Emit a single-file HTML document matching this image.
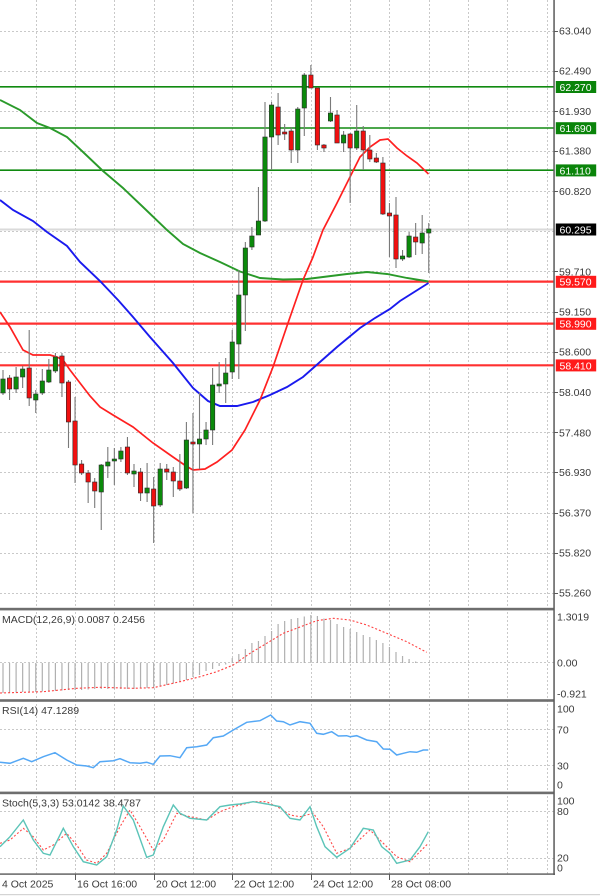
<!DOCTYPE html>
<html><head><meta charset="utf-8"><style>
html,body{margin:0;padding:0;background:#fff;width:600px;height:896px;overflow:hidden}
svg{display:block}
text{font-family:"Liberation Sans",Arial,sans-serif;font-size:10.5px;fill:#3a3a3a}
.w{fill:#fff}
</style></head><body>
<svg width="600" height="896" viewBox="0 0 600 896" xmlns="http://www.w3.org/2000/svg">
<rect width="600" height="896" fill="#fff"/>
<!-- grid -->
<g stroke="#c9c9c9" stroke-width="1" stroke-dasharray="2,2" fill="none">
<path d="M0 31.5H554M0 71.5H554M0 111.5H554M0 151.5H554M0 191.5H554M0 231.5H554M0 271.5H554M0 312.5H554M0 352.5H554M0 392.5H554M0 432.5H554M0 472.5H554M0 513.5H554M0 553.5H554M0 593.5H554"/>
<path d="M0 662.5H554M0 729.5H554M0 765.5H554M0 811.5H554M0 858.5H554"/>
<path d="M36.5 0V874M75.5 0V874M114.5 0V874M154.5 0V874M193.5 0V874M232.5 0V874M271.5 0V874M311.5 0V874M350.5 0V874M389.5 0V874M429.5 0V874M468.5 0V874M507.5 0V874M547.5 0V874"/>
</g>
<!-- current price line -->
<path d="M0 229.5H554" stroke="#dadada" stroke-width="2"/>
<!-- level lines -->
<g stroke="#108a10" stroke-width="1.6">
<path d="M0 86.8H554M0 128H554M0 170.2H554"/>
</g>
<g stroke="#ff3030" stroke-width="2.2">
<path d="M0 281.6H554M0 323.6H554M0 365.3H554"/>
</g>
<!-- moving averages -->
<polyline fill="none" stroke="#2a9a2a" stroke-width="1.9" points="0,100 20,110 37,123 50,128 67,137 83,152 103,171 123,188 143,207 167,230 183,244 200,253 220,262 240,271.5 260,278 283,279.5 307,279 327,276.5 347,274 367,272 387,274 407,278 428.5,281.5"/>
<polyline fill="none" stroke="#1a1aee" stroke-width="1.9" points="0,200 13,210 33,221 47,232 67,246 80,262 100,281 118,300 133,317 150,337 173,363 193,388 208,401 220,406 237,406 253,402 270,395 287,387 303,377 320,362 337,347 360,328 375,318 390,309 400,301 428.5,283"/>
<polyline fill="none" stroke="#ff2020" stroke-width="1.7" points="0,312 10,327 23,350 33,355 50,355 57,357 63,360 70,370 80,383 90,396 100,407 113,415 133,427 153,443 173,457 186,466 193,470 205,469 217,462 232,450 245,430 260,400 273,367 288,323 303,280 313,257 323,230 337,203 350,177 360,157 370,147 380,140 388,139 397,148 407,156 417,163 428.5,174"/>
<!-- wicks -->
<path stroke="#7a7a7a" stroke-width="1.1" fill="none" d="M3 370V395M9.55 375V400M16.1 367V393M22.65 366V388M29.2 330V406M35.75 390V413M42.3 369V395M48.85 359V383M55.4 353V373M61.95 353V397M68.5 380V448M75.05 397V483M81.6 460V475M88.15 470V503M94.7 478V508M101.25 464V530M107.8 447V478M114.35 448V485M120.9 447V462M127.45 437V475M134 464V487M140.55 468V501M147.1 463V502M153.65 477V543M160.2 463V507M166.75 464V480M173.3 467V497M179.85 454V491M186.4 422V489M192.95 413V513M199.5 393V469M206.05 422V445M212.6 368V445M219.15 362V393M225.7 358V403M232.25 330V379M238.8 270V379M245.35 242V331M251.9 227V250M258.45 187V235M265 102V222M271.55 102V170M278.1 93V145M284.65 124V140M291.2 127V163M297.75 107V163M304.3 73V136M310.85 65V88M317.4 87V150M323.95 144V152M330.5 97V122M337.05 110V143M343.6 131V152M350.15 133V203M356.7 105V150M363.25 126V170M369.8 135V162M376.35 153V163M382.9 157V215M389.45 203V257M396 197V268M402.55 250V261M409.1 232V258M415.65 223V255M422.2 215V254M428.75 223V273"/>
<!-- bodies -->
<g stroke="#2a2a2a" stroke-width="0.6">
<g fill="#0b8a0b">
<rect x="0.8" y="379" width="4.4" height="14"/>
<rect x="13.9" y="377" width="4.4" height="12"/>
<rect x="20.45" y="369" width="4.4" height="8"/>
<rect x="33.55" y="394" width="4.4" height="6"/>
<rect x="40.1" y="381" width="4.4" height="12"/>
<rect x="46.65" y="370" width="4.4" height="12"/>
<rect x="53.2" y="357" width="4.4" height="14"/>
<rect x="99.05" y="465" width="4.4" height="27"/>
<rect x="105.6" y="462" width="4.4" height="4"/>
<rect x="112.15" y="459" width="4.4" height="2"/>
<rect x="118.7" y="451" width="4.4" height="8"/>
<rect x="131.8" y="471" width="4.4" height="3"/>
<rect x="144.9" y="488" width="4.4" height="5"/>
<rect x="158" y="469" width="4.4" height="36"/>
<rect x="184.2" y="440" width="4.4" height="48"/>
<rect x="197.3" y="439" width="4.4" height="5"/>
<rect x="203.85" y="430" width="4.4" height="9"/>
<rect x="210.4" y="385" width="4.4" height="45"/>
<rect x="216.95" y="384" width="4.4" height="2"/>
<rect x="223.5" y="373" width="4.4" height="11"/>
<rect x="230.05" y="342" width="4.4" height="30"/>
<rect x="236.6" y="295" width="4.4" height="49"/>
<rect x="243.15" y="248" width="4.4" height="47"/>
<rect x="249.7" y="236" width="4.4" height="11"/>
<rect x="256.25" y="221" width="4.4" height="14"/>
<rect x="262.8" y="137" width="4.4" height="84"/>
<rect x="269.35" y="105" width="4.4" height="32"/>
<rect x="295.55" y="109" width="4.4" height="41"/>
<rect x="302.1" y="75" width="4.4" height="33"/>
<rect x="328.3" y="113" width="4.4" height="8"/>
<rect x="341.4" y="135" width="4.4" height="8"/>
<rect x="354.5" y="131" width="4.4" height="17"/>
<rect x="400.35" y="256" width="4.4" height="3"/>
<rect x="406.9" y="236" width="4.4" height="21"/>
<rect x="420" y="233" width="4.4" height="10"/>
<rect x="426.55" y="229" width="4.4" height="4"/>
</g>
<g fill="#f01010">
<rect x="7.35" y="378" width="4.4" height="11"/>
<rect x="27" y="368" width="4.4" height="30"/>
<rect x="59.75" y="356" width="4.4" height="27"/>
<rect x="66.3" y="382" width="4.4" height="40"/>
<rect x="72.85" y="421" width="4.4" height="44"/>
<rect x="79.4" y="464" width="4.4" height="9"/>
<rect x="85.95" y="473" width="4.4" height="9"/>
<rect x="92.5" y="482" width="4.4" height="9"/>
<rect x="125.25" y="447" width="4.4" height="26"/>
<rect x="138.35" y="472" width="4.4" height="21"/>
<rect x="151.45" y="489" width="4.4" height="17"/>
<rect x="164.55" y="469" width="4.4" height="3"/>
<rect x="171.1" y="472" width="4.4" height="9"/>
<rect x="177.65" y="481" width="4.4" height="8"/>
<rect x="190.75" y="442" width="4.4" height="2"/>
<rect x="275.9" y="107" width="4.4" height="28"/>
<rect x="282.45" y="132" width="4.4" height="2"/>
<rect x="289" y="131" width="4.4" height="19"/>
<rect x="308.65" y="75" width="4.4" height="13"/>
<rect x="315.2" y="88" width="4.4" height="57"/>
<rect x="321.75" y="145" width="4.4" height="3"/>
<rect x="334.85" y="115" width="4.4" height="28"/>
<rect x="347.95" y="134" width="4.4" height="14"/>
<rect x="361.05" y="131" width="4.4" height="19"/>
<rect x="367.6" y="150" width="4.4" height="9"/>
<rect x="374.15" y="158" width="4.4" height="4"/>
<rect x="380.7" y="163" width="4.4" height="51"/>
<rect x="387.25" y="213" width="4.4" height="3"/>
<rect x="393.8" y="215" width="4.4" height="44"/>
<rect x="413.45" y="237" width="4.4" height="5"/>
</g>
</g>

<!-- MACD histogram -->
<path stroke="#b0b0b0" stroke-width="1.2" fill="none" d="M3 663V693M9.55 663V693M16.1 663V692.5M22.65 663V692M29.2 663V692M35.75 663V692M42.3 663V691.5M48.85 663V691M55.4 663V691M61.95 663V690.5M68.5 663V690M75.05 663V690M81.6 663V690M88.15 663V689.5M94.7 663V689M101.25 663V689M107.8 663V689M114.35 663V689M120.9 663V689M127.45 663V689M134 663V689M140.55 663V688.5M147.1 663V688M153.65 663V688M160.2 663V686.5M166.75 663V685M173.3 663V683.5M179.85 663V682M186.4 663V680M192.95 663V677M199.5 663V675M206.05 663V671M212.6 663V669M219.15 663V666M225.7 663V664.5M232.25 663V658M238.8 663V654M245.35 663V649M251.9 663V643M258.45 663V641M265 663V636M271.55 663V631M278.1 663V624M284.65 663V621M291.2 663V619M297.75 663V618M304.3 663V616.5M310.85 663V615M317.4 663V616M323.95 663V618.5M330.5 663V620M337.05 663V624M343.6 663V627M350.15 663V629M356.7 663V632M363.25 663V635M369.8 663V637M376.35 663V640M382.9 663V643M389.45 663V647M396 663V652M402.55 663V656M409.1 663V659M415.65 663V661.5M422.2 663V662.5M428.75 663V662"/>
<polyline fill="none" stroke="#ff4040" stroke-width="1.1" stroke-dasharray="2,2" points="0,693 43.3,691.7 76.7,688.3 100,687.3 133.3,688.3 153.3,687.7 180,681.7 200,676.7 216.7,671.7 233.3,665 250,653.3 266.7,643.3 283.3,633.3 300,627 316.7,620.7 333.3,618.3 350,620 366.7,625 386.7,633.3 406.7,641.7 426.7,652.3"/>

<!-- RSI -->
<polyline fill="none" stroke="#55a8f5" stroke-width="1.5" points="0,762.3 10,763.3 23.3,758.3 31.7,761.7 43.3,756.7 55,752.7 66.7,760 76.7,765 86.7,766 93.3,767.7 100,761.7 113.3,760.7 120,758.7 130,762.7 140,763.3 146.7,762.3 153.3,764.3 160,756 170,755.7 180,757.7 186.7,747.7 196.7,746.7 206.7,745 213.3,737.7 223.3,736 233.3,730 246.7,722.3 260,720.7 270.7,715 276.7,721 283.3,721.7 290,725 300,721.7 310,723.3 316.7,733.3 323.3,734.3 331.7,731.7 338.3,736 346.7,735.7 350,736.7 356.7,735.7 366.7,740 376.7,741.7 383.3,749 390,749.3 396.7,755 403.3,753.3 410,751.7 416.7,752.3 423.3,750 428.3,750"/>

<!-- Stoch -->
<polyline fill="none" stroke="#ff4a4a" stroke-width="1.1" stroke-dasharray="2,2" points="0,843.3 10,840 23.3,828.3 33.3,836.7 43.3,850 53.3,845 66.7,833.3 76.7,845 86.7,860 96.7,863.3 106.7,853.3 120,826.7 130,810 140,826.7 153.3,850 163.3,840 176.7,813.3 190,816.7 206.7,820 220,811.7 233.3,806.7 253.3,801.7 266.7,801.7 280,808.3 290,815 300,816.7 313.3,813.3 323.3,826.7 336.7,853.3 350,848.3 370,830 383.3,843.3 396.7,856.7 410,861.7 428.3,843.3"/>
<polyline fill="none" stroke="#5cc4b8" stroke-width="1.4" points="0,846.7 10,836.7 23.3,820 33.3,840 43.3,853.3 50,855 63.3,828.3 73.3,846.7 83.3,861.7 96.7,865 106.7,856.7 116.7,830 123.3,806 133.3,820 146.7,857.3 153.3,855 163.3,826.7 173.3,805 180,813.3 190,818.3 206.7,820 220,806.7 230,805 240,804 253.3,801.7 266.7,804 280,806.7 290,818.3 300,820 310,806.7 316.7,826.7 325,846.7 336.7,857.3 350,848.3 363.3,828.3 373.3,830 381.7,846.7 390,853.3 396.7,863.3 410,860 420,846.7 428.3,831.7"/>

<!-- separators & axis -->
<rect x="0" y="607.8" width="554" height="2.6" fill="#6e6e6e"/>
<rect x="0" y="699.2" width="554" height="2.6" fill="#6e6e6e"/>
<rect x="0" y="791.6" width="554" height="2.6" fill="#6e6e6e"/>
<rect x="0" y="873.3" width="555" height="1.6" fill="#6e6e6e"/>
<rect x="553.3" y="0" width="1.5" height="875" fill="#5a5a5a"/>
<rect x="0" y="894" width="600" height="1.2" fill="#d4d4d4"/>

<!-- axis ticks -->
<path stroke="#5a5a5a" stroke-width="1" d="M554 31.5H558M554 71.5H558M554 111.5H558M554 151.5H558M554 191.5H558M554 271.5H558M554 312.5H558M554 352.5H558M554 392.5H558M554 432.5H558M554 472.5H558M554 513.5H558M554 553.5H558M554 593.5H558M75.5 874V880M154.5 874V880M232.5 874V880M311.5 874V880M389.5 874V880"/>

<!-- right labels main -->
<text x="559" y="34.7">63.040</text>
<text x="559" y="74.7">62.490</text>
<text x="559" y="114.9">61.930</text>
<text x="559" y="154.6">61.380</text>
<text x="559" y="195.1">60.820</text>
<text x="559" y="275.3">59.710</text>
<text x="559" y="315.7">59.150</text>
<text x="559" y="355.4">58.600</text>
<text x="559" y="395.9">58.040</text>
<text x="559" y="436.4">57.480</text>
<text x="559" y="476.1">56.930</text>
<text x="559" y="516.6">56.370</text>
<text x="559" y="556.3">55.820</text>
<text x="559" y="596.7">55.260</text>

<!-- level boxes -->
<rect x="555.8" y="81" width="40.4" height="12" fill="#0a840a"/>
<text class="w" x="559.5" y="90.9">62.270</text>
<rect x="555.8" y="122.2" width="40.4" height="12" fill="#0a840a"/>
<text class="w" x="559.5" y="132.1">61.690</text>
<rect x="555.8" y="164.4" width="40.4" height="12" fill="#0a840a"/>
<text class="w" x="559.5" y="174.3">61.110</text>
<rect x="555.8" y="223.5" width="40.4" height="12" fill="#000"/>
<text class="w" x="559.5" y="233.4">60.295</text>
<rect x="555.8" y="275.8" width="40.4" height="12" fill="#ff1a1a"/>
<text class="w" x="559.5" y="285.7">59.570</text>
<rect x="555.8" y="317.8" width="40.4" height="12" fill="#ff1a1a"/>
<text class="w" x="559.5" y="327.7">58.990</text>
<rect x="555.8" y="359.4" width="40.4" height="12" fill="#ff1a1a"/>
<text class="w" x="559.5" y="369.3">58.410</text>

<!-- subpanel labels -->
<text x="557" y="620.7">1.3019</text>
<text x="557" y="666.7">0.00</text>
<text x="557" y="697.7">-0.921</text>
<text x="557" y="712.7">100</text>
<text x="557" y="733.7">70</text>
<text x="557" y="769.7">30</text>
<text x="557" y="788.7">0</text>
<text x="557" y="804.7">100</text>
<text x="557" y="815">80</text>
<text x="557" y="861.7">20</text>
<text x="557" y="871.7">0</text>

<text x="2" y="623">MACD(12,26,9) 0.0087 0.2456</text>
<text x="2" y="714">RSI(14) 47.1289</text>
<text x="2" y="806.5">Stoch(5,3,3) 53.0142 38.4787</text>

<!-- dates -->
<text x="2" y="887.5">4 Oct 2025</text>
<text x="77" y="887.5">16 Oct 16:00</text>
<text x="156" y="887.5">20 Oct 12:00</text>
<text x="234" y="887.5">22 Oct 12:00</text>
<text x="313" y="887.5">24 Oct 12:00</text>
<text x="391" y="887.5">28 Oct 08:00</text>
</svg>
</body></html>
